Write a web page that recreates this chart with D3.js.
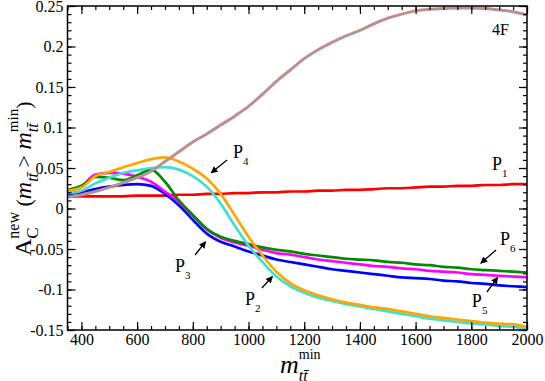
<!DOCTYPE html>
<html>
<head>
<meta charset="utf-8">
<script src="https://cdn.jsdelivr.net/npm/d3@7"></script>
<style>
  body { margin: 0; background: #fff; }
</style>
</head>
<body>
<div id="chart"></div>
<script>
// m_tt min values (GeV)
const mtt = [350, 400, 450, 500, 550, 600, 650, 700, 750, 800, 850, 900, 950, 1000, 1050, 1100, 1150,
  1200, 1250, 1300, 1350, 1400, 1450, 1500, 1550, 1600, 1650, 1700, 1750, 1800, 1850, 1900, 1950, 2000];

const p1 = [0.015, 0.015, 0.015, 0.015, 0.015, 0.016, 0.016, 0.016, 0.017, 0.017, 0.018, 0.018, 0.019, 0.019, 0.020, 0.020, 0.021,
  0.021, 0.022, 0.022, 0.023, 0.023, 0.024, 0.025, 0.025, 0.026, 0.027, 0.027, 0.028, 0.028, 0.029, 0.029, 0.030, 0.030];
const p2 = [0.022, 0.026, 0.040, 0.045, 0.051, 0.056, 0.061, 0.063, 0.058, 0.049, 0.037, 0.018, -0.008, -0.035, -0.058, -0.078, -0.092,
  -0.101, -0.107, -0.112, -0.116, -0.119, -0.122, -0.124, -0.127, -0.130, -0.133, -0.135, -0.137, -0.139, -0.141, -0.142, -0.143, -0.146];
const p4 = [0.019, 0.022, 0.031, 0.038, 0.044, 0.047, 0.050, 0.051, 0.048, 0.040, 0.027, 0.006, -0.021, -0.046, -0.066, -0.084, -0.096,
  -0.104, -0.110, -0.114, -0.118, -0.121, -0.124, -0.127, -0.130, -0.133, -0.136, -0.138, -0.140, -0.142, -0.143, -0.145, -0.146, -0.149];
const p3 = [0.018, 0.020, 0.024, 0.027, 0.029, 0.030, 0.028, 0.018, 0.004, -0.014, -0.031, -0.041, -0.047, -0.053, -0.058, -0.063, -0.066,
  -0.069, -0.072, -0.075, -0.077, -0.079, -0.081, -0.083, -0.085, -0.086, -0.087, -0.089, -0.090, -0.092, -0.093, -0.095, -0.096, -0.097];
const p5 = [0.022, 0.027, 0.042, 0.044, 0.043, 0.039, 0.033, 0.021, 0.008, -0.009, -0.026, -0.036, -0.042, -0.046, -0.051, -0.055, -0.057,
  -0.060, -0.063, -0.065, -0.067, -0.069, -0.071, -0.072, -0.074, -0.075, -0.077, -0.078, -0.079, -0.081, -0.082, -0.083, -0.084, -0.085];
const p6 = [0.023, 0.028, 0.039, 0.038, 0.035, 0.041, 0.048, 0.033, 0.010, -0.008, -0.025, -0.035, -0.040, -0.044, -0.048, -0.051, -0.053,
  -0.056, -0.058, -0.060, -0.062, -0.063, -0.064, -0.066, -0.067, -0.069, -0.070, -0.072, -0.073, -0.075, -0.076, -0.077, -0.078, -0.079];
const f4 = [0.014, 0.017, 0.021, 0.026, 0.032, 0.038, 0.046, 0.058, 0.070, 0.082, 0.092, 0.103, 0.114, 0.126, 0.141, 0.157, 0.171,
  0.185, 0.196, 0.205, 0.213, 0.220, 0.228, 0.235, 0.240, 0.244, 0.246, 0.247, 0.2475, 0.2475, 0.247, 0.245, 0.243, 0.239];

const xTicks = [400, 600, 800, 1000, 1200, 1400, 1600, 1800, 2000];
const yTicks = [-0.15, -0.1, -0.05, 0, 0.05, 0.1, 0.15, 0.2, 0.25];

// series drawn in this order (last on top)
const series = [
  { name: 'P1', values: p1, color: '#ff0000' },
  { name: 'P3', values: p3, color: '#0000ff' },
  { name: 'P5', values: p5, color: '#ff00ff' },
  { name: 'P6', values: p6, color: '#008b00' },
  { name: 'P4', values: p4, color: '#40e0d0' },
  { name: 'P2', values: p2, color: '#ffa500' },
  { name: '4F', values: f4, color: '#bc8f8f' }
];

// labels: text position and optional arrow [tail, head] in data units
const labels = [
  { p: 'P', sub: '1', x: 1874, y: 0.0475 },
  { p: 'P', sub: '4', x: 944, y: 0.0623, arrow: [[923, 0.060], [866, 0.044]] },
  { p: 'P', sub: '3', x: 736, y: -0.0784, arrow: [[808, -0.0574], [846, -0.0410]] },
  { p: 'P', sub: '2', x: 987, y: -0.1191, arrow: [[1048, -0.0981], [1086, -0.0840]] },
  { p: 'P', sub: '6', x: 1903, y: -0.0451, arrow: [[1889, -0.0512], [1834, -0.0675]] },
  { p: 'P', sub: '5', x: 1802, y: -0.1216, arrow: [[1856, -0.1031], [1895, -0.0850]] }
];

const FONT = '"Liberation Serif", "Times New Roman", "DejaVu Serif", serif';
const W = 545;
const H = 381;
const margin = { t: 6, r: 18, b: 51, l: 67.5 };
const w = W - margin.l - margin.r;
const h = H - margin.t - margin.b;

const svg = d3.select('#chart').append('svg')
  .attr('width', W)
  .attr('height', H)
  .attr('font-family', FONT);

svg.append('defs').append('marker')
  .attr('id', 'head')
  .attr('viewBox', '0 0 10 10')
  .attr('refX', 9)
  .attr('refY', 5)
  .attr('markerWidth', 7)
  .attr('markerHeight', 7)
  .attr('markerUnits', 'userSpaceOnUse')
  .attr('orient', 'auto')
  .append('path')
  .attr('d', 'M0,0 L10,5 L0,10 z')
  .attr('fill', '#000');

const g = svg.append('g')
  .attr('transform', `translate(${margin.l},${margin.t})`);

const x = d3.scaleLinear().domain([350, 2000]).range([0, w]);
const y = d3.scaleLinear().domain([-0.15, 0.25]).range([h, 0]);

g.append('clipPath').attr('id', 'clip')
  .append('rect').attr('width', w).attr('height', h);

// curves
const line = d3.line()
  .x((d, i) => x(mtt[i]))
  .y(d => y(d))
  .curve(d3.curveMonotoneX);

g.append('g')
  .attr('clip-path', 'url(#clip)')
  .selectAll('path')
  .data(series)
  .join('path')
  .attr('d', d => line(d.values))
  .attr('fill', 'none')
  .attr('stroke', d => d.color)
  .attr('stroke-width', d => (d.name === '4F' ? 3 : 2.7))
  .attr('stroke-linejoin', 'round');

// axes, ticks pointing inward
const minorX = d3.range(350, 2001, 50);
const minorY = d3.range(-15, 26).map(d => d / 100);
const fmtY = d => String(+d.toFixed(2));

function styleAxis(sel) {
  sel.attr('font-family', FONT);
  sel.select('.domain').remove();
  sel.selectAll('line').attr('stroke', '#000').attr('stroke-width', 1.2);
  sel.selectAll('text')
    .style('font-family', FONT)
    .style('font-size', '16px')
    .attr('fill', '#000');
}

g.append('g').attr('transform', `translate(0,${h})`)
  .call(d3.axisBottom(x).tickValues(minorX).tickSize(-4).tickFormat(''))
  .call(styleAxis);
g.append('g').attr('transform', `translate(0,${h})`)
  .call(d3.axisBottom(x).tickValues(xTicks).tickSize(-8).tickPadding(4).tickFormat(d3.format('d')))
  .call(styleAxis);
g.append('g')
  .call(d3.axisTop(x).tickValues(minorX).tickSize(-4).tickFormat(''))
  .call(styleAxis);
g.append('g')
  .call(d3.axisTop(x).tickValues(xTicks).tickSize(-8).tickFormat(''))
  .call(styleAxis);

g.append('g')
  .call(d3.axisLeft(y).tickValues(minorY).tickSize(-4).tickFormat(''))
  .call(styleAxis);
g.append('g')
  .call(d3.axisLeft(y).tickValues(yTicks).tickSize(-8).tickPadding(4).tickFormat(fmtY))
  .call(styleAxis);
g.append('g').attr('transform', `translate(${w},0)`)
  .call(d3.axisRight(y).tickValues(minorY).tickSize(-4).tickFormat(''))
  .call(styleAxis);
g.append('g').attr('transform', `translate(${w},0)`)
  .call(d3.axisRight(y).tickValues(yTicks).tickSize(-8).tickFormat(''))
  .call(styleAxis);

g.append('rect')
  .attr('width', w)
  .attr('height', h)
  .attr('fill', 'none')
  .attr('stroke', '#000')
  .attr('stroke-width', 1.5);

// text made of pieces: normal, sub, sup, stacked on previous
function richText(parent, pieces, x0, y0) {
  let cx = x0;
  let stackAt = x0;
  pieces.forEach((p) => {
    const start = p.stack ? stackAt : cx;
    const t = parent.append('text')
      .attr('x', start)
      .attr('y', y0 + (p.dy || 0))
      .style('font-family', FONT)
      .style('font-size', `${p.size}px`)
      .style('font-style', p.italic ? 'italic' : 'normal')
      .attr('fill', '#000')
      .text(p.t);
    const tw = t.node().getComputedTextLength();
    if (p.stack) {
      cx = Math.max(cx, start + tw);
    } else {
      stackAt = cx;
      cx += tw;
    }
  });
}

const tbar = 't\u0074\u0304';

// y label
const yl = svg.append('g').attr('transform', 'translate(31,256) rotate(-90)');
richText(yl, [
  { t: 'A', size: 24 },
  { t: 'C', size: 17, dy: 7 },
  { t: 'new', size: 16, dy: -12, stack: true },
  { t: '\u00a0(', size: 22 },
  { t: 'm', size: 24, italic: true },
  { t: tbar, size: 16, italic: true, dy: 7 },
  { t: '\u00a0>\u00a0', size: 22 },
  { t: 'm', size: 24, italic: true },
  { t: tbar, size: 16, italic: true, dy: 7 },
  { t: 'min', size: 15, dy: -13, stack: true },
  { t: ')', size: 22 }
], 0, 0);

// x label
const xl = svg.append('g');
richText(xl, [
  { t: 'm', size: 26, italic: true },
  { t: tbar, size: 16, italic: true, dy: 8 },
  { t: 'min', size: 14, dy: -14, stack: true }
], 280, 373);

// annotations
g.append('text')
  .attr('x', x(1874))
  .attr('y', y(0.2142))
  .style('font-family', FONT)
  .style('font-size', '16px')
  .text('4F');

labels.forEach((d) => {
  richText(g, [
    { t: d.p, size: 18 },
    { t: d.sub, size: 11, dy: 7 }
  ], x(d.x), y(d.y));
  if (d.arrow) {
    g.append('line')
      .attr('x1', x(d.arrow[0][0]))
      .attr('y1', y(d.arrow[0][1]))
      .attr('x2', x(d.arrow[1][0]))
      .attr('y2', y(d.arrow[1][1]))
      .attr('stroke', '#000')
      .attr('stroke-width', 1.3)
      .attr('marker-end', 'url(#head)');
  }
});
</script>
</body>
</html>
